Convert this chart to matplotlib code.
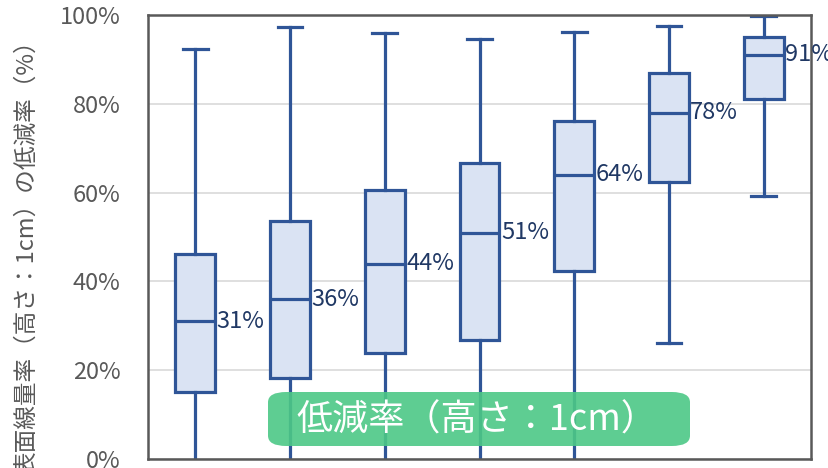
import matplotlib
matplotlib.use("Agg")
import matplotlib.pyplot as plt
from matplotlib.patches import FancyBboxPatch

plt.rcParams['font.family'] = ['Noto Sans CJK JP', 'DejaVu Sans']

# 箱ひげ図の値 (%)
upper = [92.3, 97.3, 96.0, 94.6, 96.2, 97.5, 99.8]
q3 = [46.2, 53.6, 60.6, 66.7, 76.2, 87.0, 95.1]
median = [31, 36, 44, 51, 64, 78, 91]
q1 = [15.1, 18.2, 23.9, 26.8, 42.3, 62.5, 81.0]
lower = [-10, -10, -10, -10, -10, 26.1, 59.2]
labels = ["31%", "36%", "44%", "51%", "64%", "78%", "91%"]
yticks = [0, 20, 40, 60, 80, 100]

edge = "#2F5597"
fill = "#DAE3F3"
txt = "#203864"
gray = "#595959"

fig = plt.figure(figsize=(8.29, 4.68), dpi=100)
ax = fig.add_axes([148/829, 9/468, (811-148)/829, (459-15)/468])

stats = []
for i in range(len(median)):
    stats.append(dict(med=median[i], q1=q1[i], q3=q3[i],
                      whislo=lower[i], whishi=upper[i], fliers=[]))
pos = [i + 0.5 for i in range(len(median))]

ax.bxp(stats, positions=pos, widths=0.42, capwidths=0.26, patch_artist=True,
       boxprops=dict(facecolor=fill, edgecolor=edge, linewidth=2.3),
       medianprops=dict(color=edge, linewidth=2.3),
       whiskerprops=dict(color=edge, linewidth=2.3),
       capprops=dict(color=edge, linewidth=2.3),
       showfliers=False, manage_ticks=False)

for p, m, l in zip(pos, median, labels):
    ax.text(p + 0.225, m, l, ha="left", va="center", color=txt, fontsize=17)

ax.set_xlim(0, 7)
ax.set_ylim(0, 100)
ax.set_yticks(yticks)
ax.set_yticklabels([str(t) + "%" for t in yticks], color=gray, fontsize=17)
ax.tick_params(axis="y", length=0, pad=20)
ax.set_xticks([])
ax.grid(axis="y", color="#D9D9D9", linewidth=1.2)
ax.set_axisbelow(True)
for s in ax.spines.values():
    s.set_color("#595959")
    s.set_linewidth(1.8)

# 緑のラベル
box = FancyBboxPatch((268/829, (468-446)/468), (690-268)/829, (446-392)/468,
                     boxstyle="round,pad=0,rounding_size=0.022",
                     transform=fig.transFigure, facecolor="#4CC886",
                     edgecolor="none", alpha=0.9, zorder=10)
fig.patches.append(box)
fig.text(477/829, (468-421)/468, "低減率（高さ：1cm）", color="white",
         fontsize=26, ha="center", va="center", zorder=11)

fig.text(27/829, 1 - 28/468, "表面線量率（高さ：1cm）の低減率（%）", rotation=90,
         ha="center", va="top", color=gray, fontsize=17)

fig.savefig("out.png", dpi=100)
